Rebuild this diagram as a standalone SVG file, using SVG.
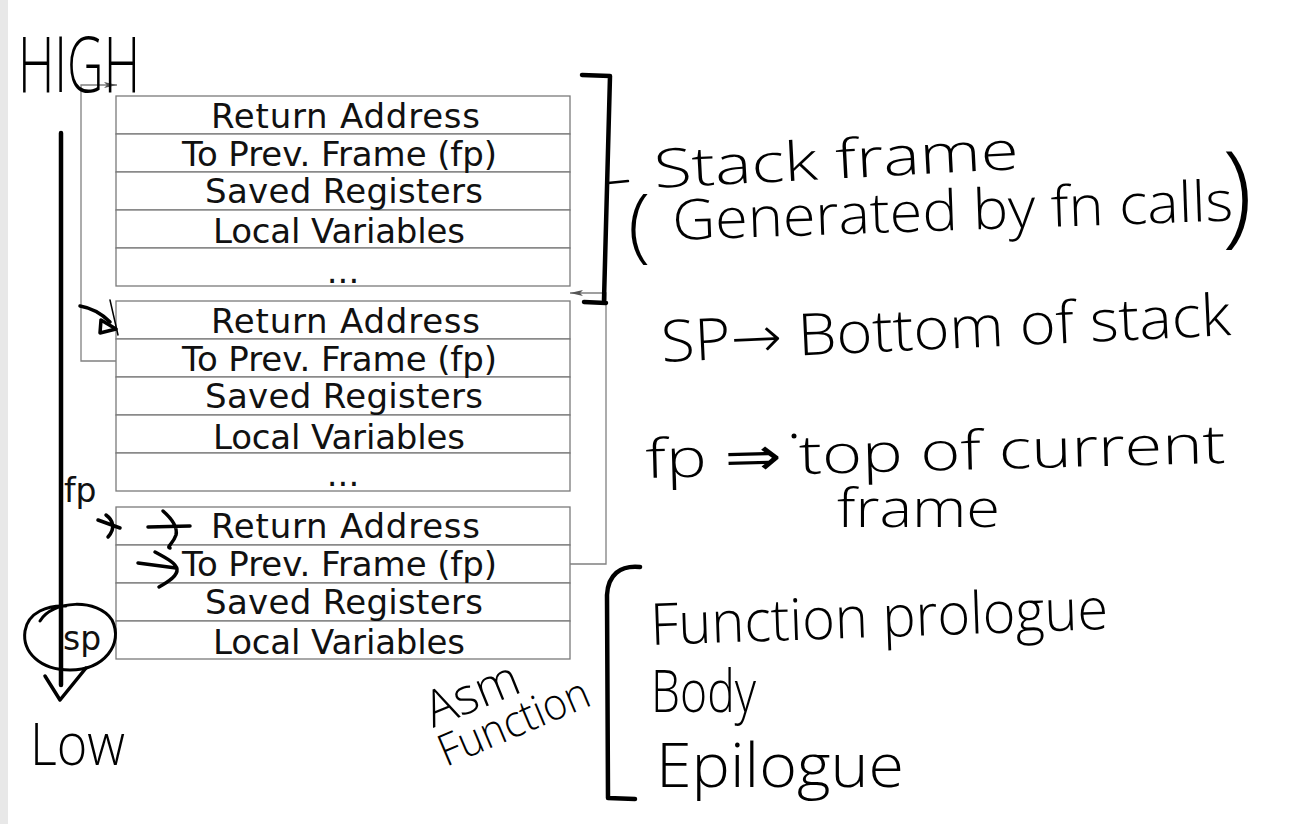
<svg xmlns="http://www.w3.org/2000/svg" width="1315" height="824" viewBox="0 0 1315 824">
<style>
.row{fill:#fff;stroke:#7a7a7a;stroke-width:1.3}
.lbl{font-family:"DejaVu Sans",sans-serif;font-size:34px;fill:#111}
.dots{font-family:"DejaVu Sans",sans-serif;font-size:34px;fill:#111;text-anchor:middle}
.reg{font-family:"DejaVu Sans",sans-serif;font-size:33px;fill:#111}
.hw{font-family:"Open Sans","DejaVu Sans",sans-serif;font-weight:300;fill:#000}
.conn{fill:none;stroke:#808080;stroke-width:1.3}
.ink{fill:none;stroke:#000;stroke-linecap:round;stroke-linejoin:round}
</style>
<defs>
<marker id="ah" markerWidth="14" markerHeight="8" refX="13" refY="4" orient="auto" markerUnits="userSpaceOnUse">
<path d="M0,1 L13,4 L0,7 L3,4 Z" fill="#555"/>
</marker>
</defs>
<rect x="0" y="0" width="1315" height="824" fill="#fff"/>
<rect x="0" y="0" width="8" height="824" fill="#e8e8e8"/>

<g id="frame1">
<rect class="row" x="116" y="96" width="454" height="38"/>
<rect class="row" x="116" y="134" width="454" height="38"/>
<rect class="row" x="116" y="172" width="454" height="38"/>
<rect class="row" x="116" y="210" width="454" height="38"/>
<rect class="row" x="116" y="248" width="454" height="38"/>
<text class="lbl" x="211" y="128" textLength="269" lengthAdjust="spacing">Return Address</text>
<text class="lbl" x="182" y="166" textLength="315" lengthAdjust="spacing">To Prev. Frame (fp)</text>
<text class="lbl" x="205" y="203" textLength="278" lengthAdjust="spacing">Saved Registers</text>
<text class="lbl" x="213" y="243" textLength="252" lengthAdjust="spacing">Local Variables</text>
<text class="dots" x="343" y="283">...</text>
</g>

<g id="frame2">
<rect class="row" x="116" y="301" width="454" height="38"/>
<rect class="row" x="116" y="339" width="454" height="38"/>
<rect class="row" x="116" y="377" width="454" height="38"/>
<rect class="row" x="116" y="415" width="454" height="38"/>
<rect class="row" x="116" y="453" width="454" height="38"/>
<text class="lbl" x="211" y="333" textLength="269" lengthAdjust="spacing">Return Address</text>
<text class="lbl" x="182" y="371" textLength="315" lengthAdjust="spacing">To Prev. Frame (fp)</text>
<text class="lbl" x="205" y="408" textLength="278" lengthAdjust="spacing">Saved Registers</text>
<text class="lbl" x="213" y="449" textLength="252" lengthAdjust="spacing">Local Variables</text>
<text class="dots" x="343" y="486">...</text>
</g>

<g id="frame3">
<rect class="row" x="116" y="507" width="454" height="38"/>
<rect class="row" x="116" y="545" width="454" height="38"/>
<rect class="row" x="116" y="583" width="454" height="38"/>
<rect class="row" x="116" y="621" width="454" height="38"/>
<text class="lbl" x="211" y="538" textLength="269" lengthAdjust="spacing">Return Address</text>
<text class="lbl" x="182" y="576" textLength="315" lengthAdjust="spacing">To Prev. Frame (fp)</text>
<text class="lbl" x="205" y="614" textLength="278" lengthAdjust="spacing">Saved Registers</text>
<text class="lbl" x="213" y="654" textLength="252" lengthAdjust="spacing">Local Variables</text>
</g>

<g id="connectors">
<path class="conn" d="M116,361 H81 V85 H117" marker-end="url(#ah)"/>
<path class="conn" d="M570,564 H606 V293 H570" marker-end="url(#ah)"/>
</g>

<g id="fp-label"><text class="reg" x="64" y="502">fp</text></g>
<g id="sp-label"><text class="reg" x="63" y="650">sp</text></g>

<g id="stack-axis">
<text class="hw" x="18" y="92" font-size="78" textLength="122" lengthAdjust="spacingAndGlyphs">HIGH</text>
<path class="ink" stroke-width="4.5" d="M61,133 L61,685"/>
<path class="ink" stroke-width="3.5" d="M45,676 L60,700 L86,668"/>
<path class="ink" stroke-width="3" d="M40,621 C52,600 98,598 112,620 C124,644 104,670 70,670 C40,670 22,652 25,631 C28,612 48,605 66,606"/>
<text class="hw" x="30" y="765" font-size="58" textLength="95" lengthAdjust="spacingAndGlyphs">Low</text>
</g>

<g id="ink-arrows">
<path class="ink" stroke-width="3.5" d="M80,306 C92,308 102,314 110,322"/>
<path class="ink" stroke-width="3.5" d="M101,320 L100,333 L116,329 Z"/>
<path class="ink" stroke-width="1.5" d="M110,300 L118,335"/>
<path class="ink" stroke-width="3.5" d="M98,520 L120,528 M106,515 C113,520 116,528 108,537"/>
<path class="ink" stroke-width="3.5" d="M148,527 L190,526 M163,511 C171,518 178,526 176,535 C173,544 166,547 170,548"/>
<path class="ink" stroke-width="3.5" d="M138,563 L176,568 M155,552 C166,558 176,563 177,569 C178,576 168,582 159,587"/>
</g>

<g id="stack-frame-note">
<path class="ink" stroke-width="4.5" d="M582,75 L610,76 L604,300 M584,302 L606,303"/>
<path class="ink" stroke-width="2.5" d="M608,183 L628,181"/>
<text class="hw" x="655" y="188" font-size="54" textLength="365" lengthAdjust="spacingAndGlyphs" transform="rotate(-3 655 188)">Stack frame</text>
<text class="hw" x="628" y="252" font-size="82">(</text>
<text class="hw" x="673" y="240" font-size="56" textLength="561" lengthAdjust="spacingAndGlyphs" transform="rotate(-2 673 240)">Generated by fn calls</text>
<text class="hw" x="1222" y="232" font-size="112">)</text>
</g>

<g id="sp-note">
<text class="hw" x="662" y="362" font-size="58" textLength="570" lengthAdjust="spacingAndGlyphs" transform="rotate(-2.7 662 362)">SP→ Bottom of stack</text>
</g>

<g id="fp-note">
<text class="hw" x="646" y="478" font-size="54" textLength="580" lengthAdjust="spacingAndGlyphs" transform="rotate(-1.5 646 478)">fp ⇒ top of current</text>
<circle cx="794" cy="436" r="2.5" fill="#000"/>
<text class="hw" x="837" y="527" font-size="54" textLength="163" lengthAdjust="spacingAndGlyphs">frame</text>
</g>

<g id="function-note">
<path class="ink" stroke-width="4.5" d="M640,567 C620,565 608,575 607,595 L608,798 L635,799"/>
<text class="hw" x="651" y="645" font-size="58" textLength="458" lengthAdjust="spacingAndGlyphs" transform="rotate(-2 651 645)">Function prologue</text>
<text class="hw" x="651" y="712" font-size="58" textLength="105" lengthAdjust="spacingAndGlyphs">Body</text>
<text class="hw" x="656" y="787" font-size="60" textLength="248" lengthAdjust="spacingAndGlyphs">Epilogue</text>
<text class="hw" x="433" y="728" font-size="50" transform="rotate(-22 433 728)">Asm</text>
<text class="hw" x="446" y="767" font-size="44" textLength="160" lengthAdjust="spacingAndGlyphs" transform="rotate(-23 446 767)">Function</text>
</g>
</svg>
